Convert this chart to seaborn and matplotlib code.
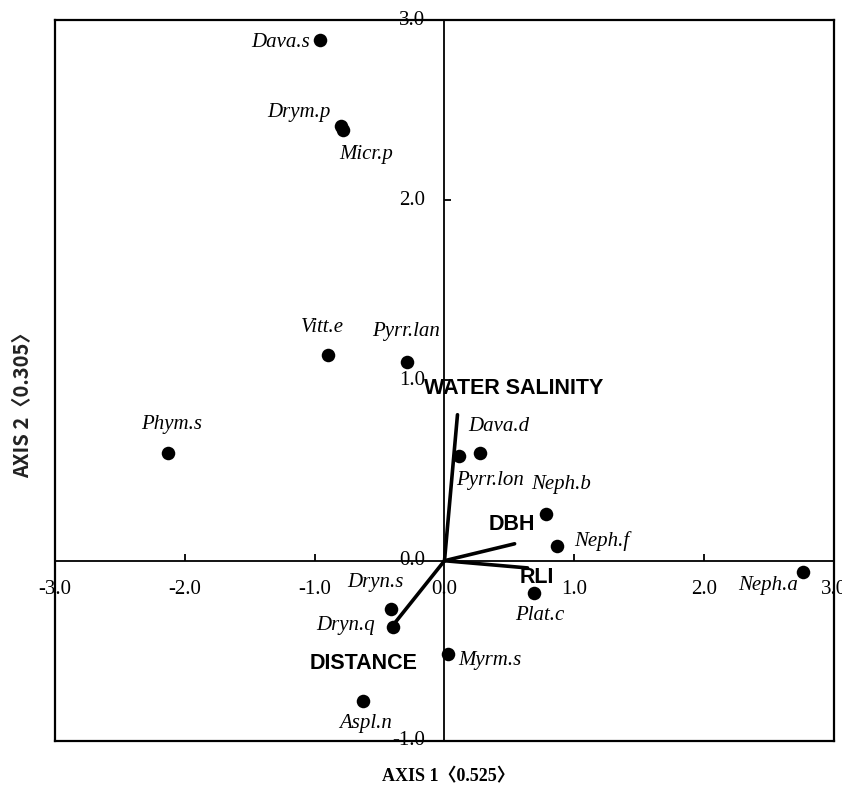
# CCA ordination biplot of fern species against environmental factors
import matplotlib.pyplot as plt
import seaborn as sns
import pandas as pd

# species scores
species = ['Dava.s', 'Drym.p', 'Micr.p', 'Vitt.e', 'Pyrr.lan', 'Phym.s', 'Dava.d', 'Pyrr.lon',
           'Neph.b', 'Neph.f', 'Neph.a', 'Plat.c', 'Myrm.s', 'Dryn.s', 'Dryn.q', 'Aspl.n']
axis1 = [-0.96, -0.80, -0.78, -0.90, -0.29, -2.13, 0.27, 0.11,
         0.78, 0.87, 2.76, 0.69, 0.03, -0.41, -0.40, -0.63]
axis2 = [2.89, 2.41, 2.39, 1.14, 1.10, 0.60, 0.60, 0.58,
         0.26, 0.08, -0.06, -0.18, -0.52, -0.27, -0.37, -0.78]

# environmental factor vectors
factors = ['WATER SALINITY', 'DBH', 'RLI', 'DISTANCE']
factor_x = [0.10, 0.54, 0.64, -0.41]
factor_y = [0.81, 0.094, -0.04, -0.37]

x_ticks = [-3, -2, -1, 0, 1, 2, 3]
x_tick_labels = ['-3.0', '-2.0', '-1.0', '0.0', '1.0', '2.0', '3.0']
y_ticks = [-1, 0, 1, 2, 3]
y_tick_labels = ['-1.0', '0.0', '1.0', '2.0', '3.0']

# label offsets (pixels) from each point / vector tip
species_offsets = {
    'Dava.s': (-39, -3), 'Drym.p': (-42, 14), 'Micr.p': (23, -25), 'Vitt.e': (-5, 28),
    'Pyrr.lan': (-1, 31), 'Phym.s': (4, 28), 'Dava.d': (19, 26), 'Pyrr.lon': (31, -24),
    'Neph.b': (15, 29), 'Neph.f': (44, 5), 'Neph.a': (-35, -14), 'Plat.c': (6, -22),
    'Myrm.s': (41, -6), 'Dryn.s': (-16, 27), 'Dryn.q': (-47, 2), 'Aspl.n': (3, -22),
}
factor_offsets = {'WATER SALINITY': (56, 26), 'DBH': (-3, 19), 'RLI': (9, -10), 'DISTANCE': (-28, -36)}

df = pd.DataFrame({'species': species, 'axis1': axis1, 'axis2': axis2})

sns.set_style('white')
plt.rcParams['text.color'] = 'black'
serif = ['Liberation Serif', 'Noto Sans CJK SC']
sans = ['Liberation Sans', 'DejaVu Sans']

fig = plt.figure(figsize=(8.42, 7.85), dpi=100)
ax = fig.add_axes([0.0653, 0.0561, 0.9252, 0.9184])

# cross axes through the origin
ax.axhline(0, color='black', lw=1.3, zorder=1)
ax.axvline(0, color='black', lw=1.3, zorder=1)

# environmental vectors
for name, fx, fy in zip(factors, factor_x, factor_y):
    ax.plot([0, fx], [0, fy], color='black', lw=2.6, solid_capstyle='round', zorder=2)
    ax.annotate(name, (fx, fy), xytext=factor_offsets[name], textcoords='offset pixels',
                ha='center', va='center', fontsize=15.5, fontweight='bold', family=sans,
                color='black')

sns.scatterplot(data=df, x='axis1', y='axis2', color='black', s=95, edgecolor='black',
                linewidth=0, ax=ax, zorder=3)

for name, x, y in zip(species, axis1, axis2):
    ax.annotate(name, (x, y), xytext=species_offsets[name], textcoords='offset pixels',
                ha='center', va='center', fontsize=15, style='italic', family=serif,
                color='black')

# tick marks sitting on the origin axes
inner_x = [t for t in x_ticks if t not in (0, -3, 3)]
inner_y = [t for t in y_ticks if t not in (0, -1, 3)]
ax.plot(inner_x, [0] * len(inner_x), ls='', marker=2, ms=5, mew=1.3, color='black')
ax.plot([0] * len(inner_y), inner_y, ls='', marker=1, ms=5, mew=1.3, color='black')

for t, lab in zip(x_ticks, x_tick_labels):
    ax.annotate(lab, (t, 0), xytext=(0, -29), textcoords='offset pixels', ha='center',
                va='center', fontsize=15, family=serif, color='black', annotation_clip=False)
for t, lab in zip(y_ticks, y_tick_labels):
    ax.annotate(lab, (0, t), xytext=(-19, 0), textcoords='offset pixels', ha='right',
                va='center', fontsize=15, family=serif, color='black', annotation_clip=False)

ax.set_xlim(-3, 3)
ax.set_ylim(-1, 3)
ax.set_xticks([])
ax.set_yticks([])
ax.set_xlabel('')
ax.set_ylabel('')
for sp in ax.spines.values():
    sp.set_color('black')
    sp.set_linewidth(1.6)

fig.text(448 / 842, 1 - 777 / 785, 'AXIS 1〈0.525〉', ha='center', va='center',
         fontsize=13, fontweight='bold', family=serif, color='black')
fig.text(23 / 842, 1 - 400 / 785, 'AXIS 2〈0.305〉', ha='center', va='center', rotation=90,
         fontsize=14.5, fontweight='bold', color='#222222',
         family=['Noto Sans CJK SC', 'DejaVu Sans'])

fig.savefig('out.png', dpi=100)
